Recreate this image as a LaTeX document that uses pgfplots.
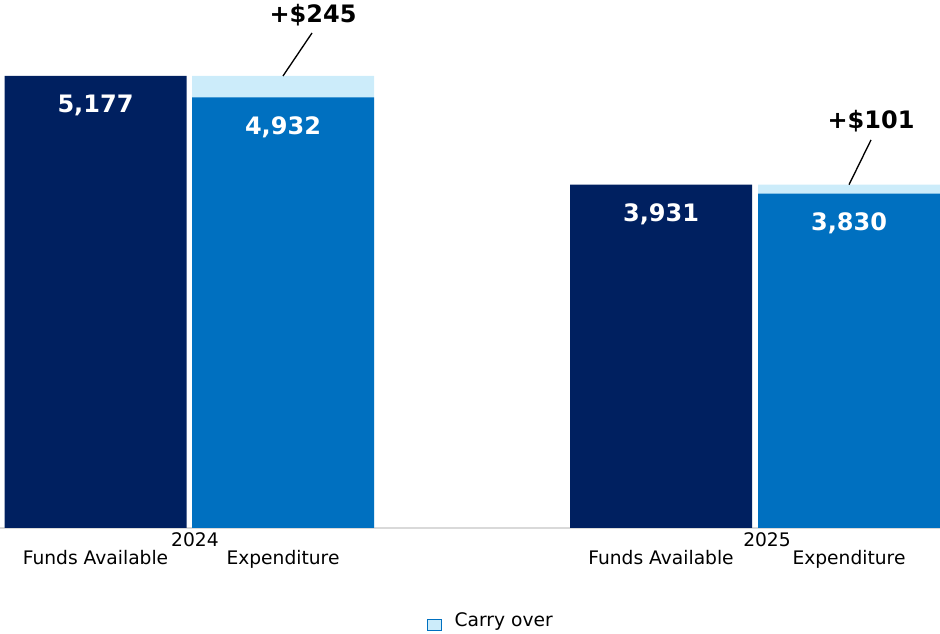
\documentclass[border=0pt]{standalone}
\usepackage{pgfplots}
\pgfplotsset{compat=1.18}
\usepackage{fontspec}
\setmainfont{DejaVu Sans}
\definecolor{navy}{HTML}{002060}
\definecolor{midblue}{HTML}{0070C0}
\definecolor{lightblue}{HTML}{CCECFA}
\definecolor{baseline}{HTML}{D9D9D9}
\begin{document}
\begin{tikzpicture}
\useasboundingbox (0,-79.5pt) rectangle (705pt,396pt);
\begin{axis}[
  scale only axis, width=705pt, height=396pt,
  xmin=0, xmax=940, ymin=0, ymax=6047,
  enlargelimits=false, clip=false,
  axis y line=none, axis x line=bottom,
  x axis line style={draw=baseline, line width=1.5pt, -},
  major tick length=0pt,
  ybar, bar shift=0pt, bar width=182,
  xtick={95.5,283,661,849},
  xticklabels={Funds Available,Expenditure,Funds Available,Expenditure},
  xticklabel style={font=\fontsize{14}{16}\selectfont, anchor=center, text height=10pt, text depth=3pt, yshift=-24pt},
  /pgf/number format/assume math mode=true,
  /pgf/number format/1000 sep={,},
  nodes near coords style={font=\bfseries\fontsize{18}{20}\selectfont, text=white, anchor=center, yshift=-22.5pt},
  legend style={at={(axis cs:491,-1065)}, anchor=center, draw=none, fill=none, font=\fontsize{14}{16}\selectfont},
  legend image code/.code={\draw[fill=lightblue, draw=midblue, line width=1pt] (0pt,-7pt) rectangle (10.5pt,1pt); \path (18.5pt,0pt);},
]
\addplot[fill=navy, draw=none, nodes near coords, forget plot] coordinates {(95.5,5177) (661,3931)};
\addplot[fill=lightblue, draw=none] coordinates {(283,5177) (849,3931)};
\addlegendentry{Carry over}
\addplot[fill=midblue, draw=none, nodes near coords, forget plot] coordinates {(283,4932) (849,3830)};
\draw[black, line width=1pt] (axis cs:283,5177) -- (axis cs:312,5669);
\draw[black, line width=1pt] (axis cs:849,3931) -- (axis cs:871,4444);
\node[font=\bfseries\fontsize{18}{20}\selectfont, anchor=center] at (axis cs:313,5876) {+\$245};
\node[font=\bfseries\fontsize{18}{20}\selectfont, anchor=center] at (axis cs:871,4661) {+\$101};
\node[font=\fontsize{14}{16}\selectfont, anchor=center] at (axis cs:195,-137) {2024};
\node[font=\fontsize{14}{16}\selectfont, anchor=center] at (axis cs:767,-137) {2025};
\end{axis}
\end{tikzpicture}
\end{document}
